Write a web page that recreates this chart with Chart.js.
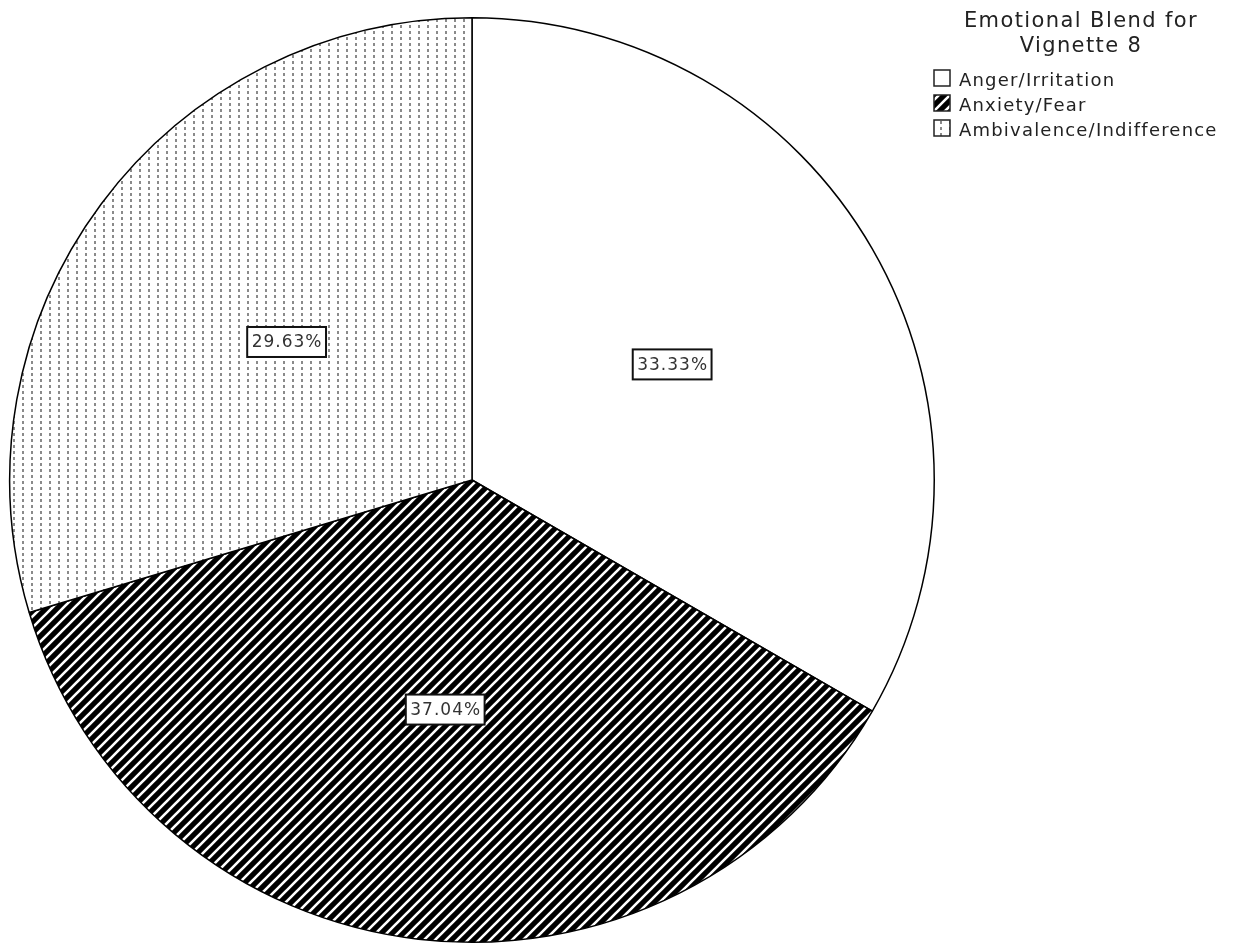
<!DOCTYPE html>
<html>
<head>
<meta charset="utf-8">
<script src="https://cdn.jsdelivr.net/npm/chart.js@4/dist/chart.umd.min.js"></script>
<style>
  html, body { margin: 0; padding: 0; background: #fff; }
  #wrap { width: 1239px; height: 944px; }
</style>
</head>
<body>
<div id="wrap"><canvas id="pieChart"></canvas></div>
<script>
// chart data
const legendTitle = ['Emotional Blend for', 'Vignette 8'];
const categories = ['Anger/Irritation', 'Anxiety/Fear', 'Ambivalence/Indifference'];
const percents = [33.33, 37.04, 29.63];

// fill patterns
function makeTile(w, h, draw) {
    const c = document.createElement('canvas');
    c.width = w; c.height = h;
    draw(c.getContext('2d'));
    return c;
}
const tmpCtx = document.createElement('canvas').getContext('2d');

const stripeTile = makeTile(11, 11, function(g) {
    g.fillStyle = '#000';
    g.fillRect(0, 0, 11, 11);
    g.strokeStyle = '#fff';
    g.lineWidth = 2.6;
    g.beginPath();
    g.moveTo(-2, 13); g.lineTo(13, -2);
    g.moveTo(-2, 2); g.lineTo(2, -2);
    g.moveTo(9, 13); g.lineTo(13, 9);
    g.stroke();
});
const dotTile = makeTile(9, 6, function(g) {
    g.fillStyle = '#fff';
    g.fillRect(0, 0, 9, 6);
    g.fillStyle = '#8a8a8a';
    g.fillRect(4, 1, 2, 3);
});
const fills = ['#ffffff', tmpCtx.createPattern(stripeTile, 'repeat'), tmpCtx.createPattern(dotTile, 'repeat')];
const swatches = [null, stripeTile, dotTile];

// labels in boxes at each slice
const boxLabels = {
    id: 'boxLabels',
    afterDatasetsDraw(chart) {
        const ctx = chart.ctx;
        const meta = chart.getDatasetMeta(0);
        ctx.save();
        ctx.font = '17px "DejaVu Sans"';
        ctx.letterSpacing = '1px';
        ctx.textAlign = 'center';
        ctx.textBaseline = 'middle';
        meta.data.forEach(function(arc, i) {
            const p = arc.tooltipPosition();
            const txt = percents[i].toFixed(2) + '%';
            const w = ctx.measureText(txt).width + 8;
            const h = 30;
            ctx.fillStyle = '#fff';
            ctx.fillRect(p.x - w / 2, p.y - h / 2, w, h);
            ctx.strokeStyle = '#111';
            ctx.lineWidth = 2;
            ctx.strokeRect(p.x - w / 2, p.y - h / 2, w, h);
            ctx.fillStyle = '#333';
            ctx.fillText(txt, p.x + 0.5, p.y + 1);
        });
        ctx.restore();
    }
};

// legend at top right
const sideLegend = {
    id: 'sideLegend',
    afterDraw(chart) {
        const ctx = chart.ctx;
        ctx.save();
        ctx.fillStyle = '#222';
        ctx.textAlign = 'center';
        ctx.textBaseline = 'alphabetic';
        ctx.font = '21px "DejaVu Sans"';
        ctx.letterSpacing = '1.4px';
        ctx.fillText(legendTitle[0], 1081, 27);
        ctx.fillText(legendTitle[1], 1081, 52);
        ctx.textAlign = 'left';
        ctx.font = '18px "DejaVu Sans"';
        ctx.letterSpacing = '1.2px';
        categories.forEach(function(name, i) {
            const y = 70 + i * 25;
            if (swatches[i]) {
                ctx.fillStyle = ctx.createPattern(swatches[i], 'repeat');
            } else {
                ctx.fillStyle = '#fff';
            }
            ctx.fillRect(934, y, 16, 16);
            ctx.strokeStyle = '#222';
            ctx.lineWidth = 1.5;
            ctx.strokeRect(934, y, 16, 16);
            ctx.fillStyle = '#222';
            ctx.fillText(name, 959, y + 16);
        });
        ctx.restore();
    }
};

new Chart(document.getElementById('pieChart'), {
    type: 'pie',
    data: {
        labels: categories,
        datasets: [{
            data: percents,
            backgroundColor: fills,
            borderColor: '#000',
            borderWidth: 1.5
        }]
    },
    options: {
        responsive: true,
        maintainAspectRatio: false,
        animation: false,
        layout: { padding: { left: 9, right: 304, top: 17, bottom: 1 } },
        plugins: {
            legend: { display: false },
            tooltip: { enabled: false }
        }
    },
    plugins: [boxLabels, sideLegend]
});
</script>
</body>
</html>
